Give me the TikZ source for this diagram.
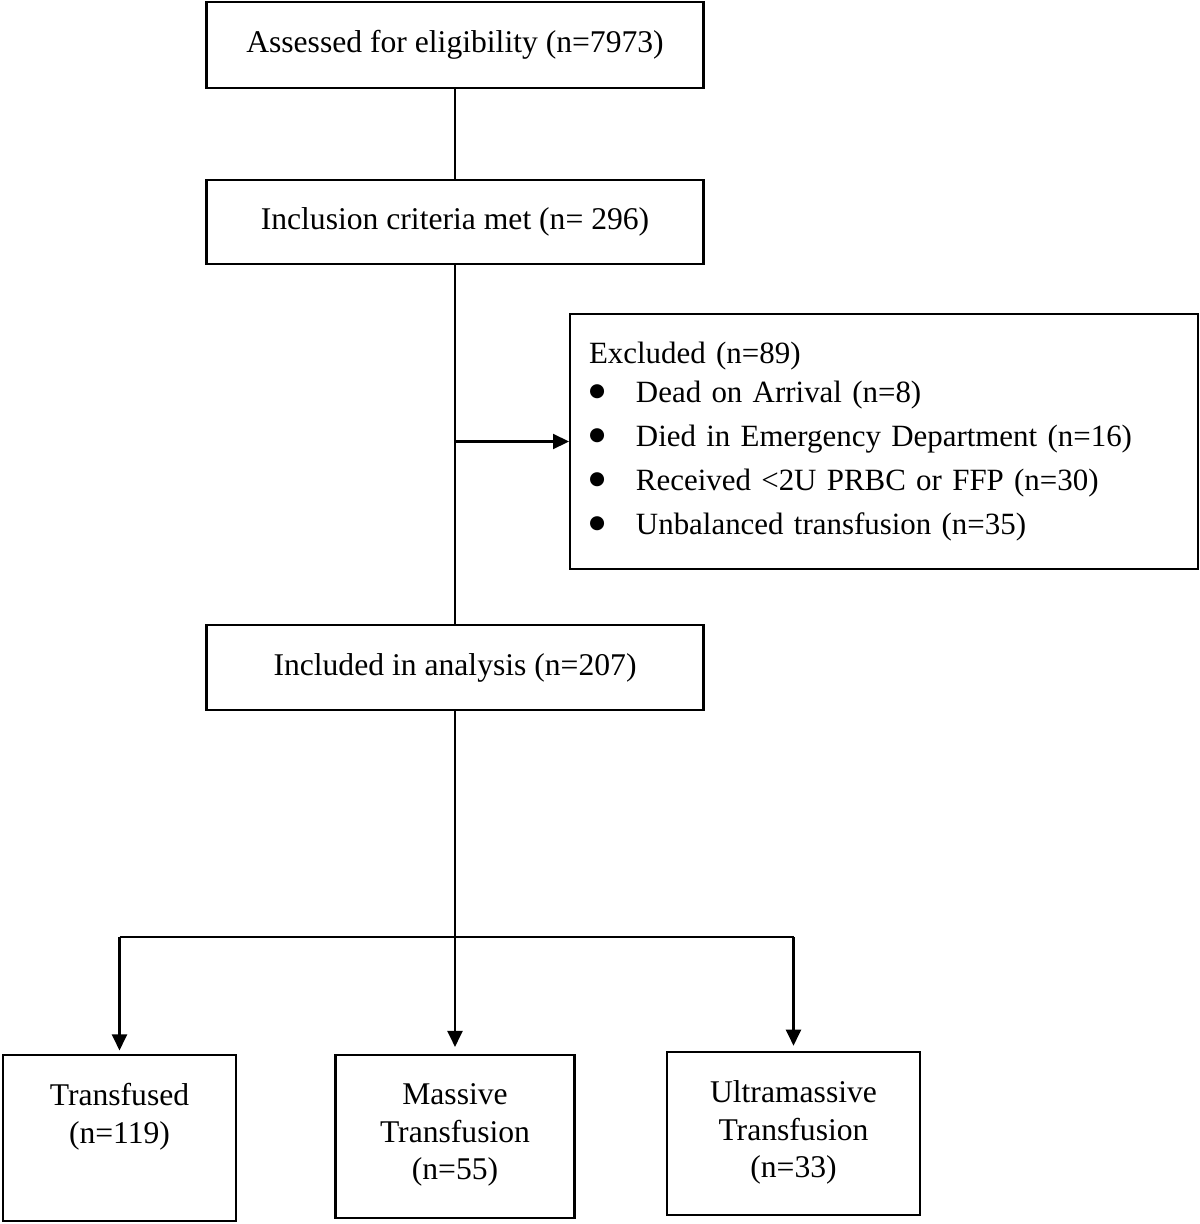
\documentclass[tikz,border=0pt]{standalone}
\usepackage{fontspec}
\setmainfont{Liberation Serif}
\newfontfamily\dotfont{DejaVu Sans}
\usetikzlibrary{arrows.meta,positioning,calc}

\tikzset{
    box/.style={draw, line width=1.2pt, minimum width=9.94cm, minimum height=1.7cm, inner sep=0pt},
    outbox/.style={draw, line width=1.2pt, inner sep=0pt},
    link/.style={line width=1.2pt},
    arrow/.style={link, -{Triangle[length=0.32cm,width=0.3cm]}}
}

\begin{document}
\begin{tikzpicture}[x=0.02cm, y=-0.02cm, font=\fontsize{18pt}{21.6pt}\selectfont]
    \useasboundingbox (0,0) rectangle (1200,1224);

    % Main column
    \node [box, minimum height=1.72cm] (assess) at (455,45) {Assessed for eligibility (n=7973)};
    \node [box, minimum height=1.68cm] (incl) at (455,222) {Inclusion criteria met (n= 296)};
    \node [box] (anal) at (455,667.5) {Included in analysis (n=207)};

    % Excluded
    \node [draw, line width=1.2pt, text width=11.8cm, inner xsep=0.38cm, minimum height=5.1cm, align=left,
           font=\fontsize{17.6pt}{21.6pt}\selectfont] (excl) at (884,441.5)
        {Excluded (n=89)\\[0.4pt]
        \makebox[26.7pt][l]{\raisebox{3.2pt}{\dotfont\fontsize{10.5pt}{10.5pt}\selectfont ●}}Dead on Arrival (n=8)\\[3.4pt]
        \makebox[26.7pt][l]{\raisebox{3.2pt}{\dotfont\fontsize{10.5pt}{10.5pt}\selectfont ●}}Died in Emergency Department (n=16)\\[3.4pt]
        \makebox[26.7pt][l]{\raisebox{3.2pt}{\dotfont\fontsize{10.5pt}{10.5pt}\selectfont ●}}Received <2U PRBC or FFP (n=30)\\[3.4pt]
        \makebox[26.7pt][l]{\raisebox{3.2pt}{\dotfont\fontsize{10.5pt}{10.5pt}\selectfont ●}}Unbalanced transfusion (n=35)};

    % Groups
    \node [outbox] (transf) at (119.5,1138) {\parbox[c][3.32cm][t]{4.66cm}{\vspace*{16pt}\centering Transfused\\(n=119)}};
    \node [outbox] (massive) at (455,1136.5) {\parbox[c][3.26cm][t]{4.78cm}{\vspace*{16pt}\centering Massive\\Transfusion\\(n=55)}};
    \node [outbox] (ultra) at (793.5,1133.5) {\parbox[c][3.26cm][t]{5.06cm}{\vspace*{16pt}\centering Ultramassive\\Transfusion\\(n=33)}};

    % Connectors
    \draw [link] (assess) -- (incl);
    \draw [link] (incl) -- (anal);
    \coordinate (split) at (incl.south |- excl.west);
    \draw [arrow] (split) -- (excl);

    \coordinate (fork) at (455,937);
    \draw [link] (transf.north |- fork) -- (ultra.north |- fork);
    \draw [arrow, shorten >=4pt] (anal) -- (massive);
    \draw [arrow, shorten >=2pt] (transf.north |- fork) -- (transf);
    \draw [arrow, shorten >=3pt] (ultra.north |- fork) -- (ultra);
\end{tikzpicture}
\end{document}
